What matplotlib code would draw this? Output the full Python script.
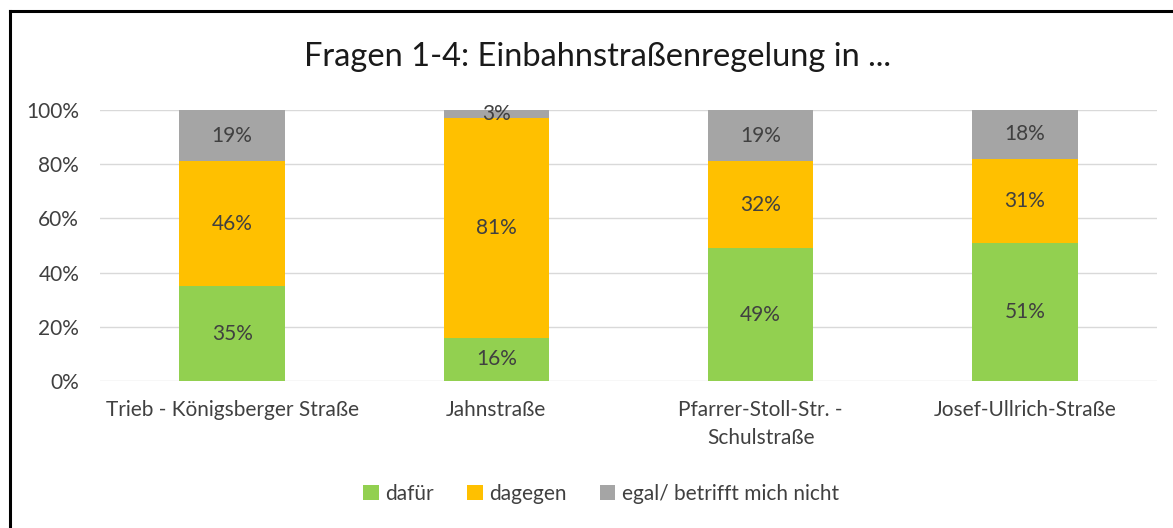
import matplotlib
matplotlib.use('Agg')
from matplotlib import pyplot as plt
from matplotlib.lines import Line2D
import numpy as np

plt.rcParams['font.family'] = ['Lato', 'DejaVu Sans']

streets = ['Trieb - Königsberger Straße', 'Jahnstraße',
           'Pfarrer-Stoll-Str. -\nSchulstraße', 'Josef-Ullrich-Straße']
dafuer = [35, 16, 49, 51]
dagegen = [46, 81, 32, 31]
egal = [19, 3, 19, 18]
series_names = ['dafür', 'dagegen', 'egal/ betrifft mich nicht']
colors = ['#92D050', '#FFC000', '#A5A5A5']

fig = plt.figure(figsize=(11.73, 5.28), dpi=100)
ax = fig.add_axes([100/1173, 1 - 381/528, 1057/1173, 271/528])

x = np.arange(len(streets))
bottom = np.zeros(len(streets))
for vals, name, col in zip([dafuer, dagegen, egal], series_names, colors):
    vals = np.array(vals)
    ax.bar(x, vals, 0.4, bottom=bottom, color=col, label=name, zorder=2)
    for xi, b, v in zip(x, bottom, vals):
        ax.text(xi, b + v / 2, f'{v}%', ha='center', va='center',
                fontsize=15, color='#404040', zorder=3)
    bottom += vals

ax.set_xlim(-0.5, len(streets) - 0.5)
ax.set_ylim(0, 100)
ax.set_yticks(range(0, 101, 20))
ax.set_yticklabels([f'{t}%' for t in range(0, 101, 20)], fontsize=15, color='#404040')
ax.set_xticks(x)
ax.set_xticklabels(streets, fontsize=15, color='#404040', linespacing=1.45)
ax.tick_params(length=0)
ax.tick_params(axis='y', pad=15)
ax.tick_params(axis='x', pad=14)
ax.grid(axis='y', color='#d9d9d9', linewidth=1, zorder=0)
for s in ax.spines.values():
    s.set_visible(False)

fig.text(597/1173, 1 - 57/528, 'Fragen 1-4: Einbahnstraßenregelung in ...',
         ha='center', va='center', fontsize=23.5, color='#1a1a1a')

fig.legend(loc='center', bbox_to_anchor=(601/1173, 1 - 494/528), ncol=3,
           frameon=False, fontsize=15, handlelength=0.75, handleheight=0.75,
           handletextpad=0.3, columnspacing=1.6, labelcolor='#404040')

# frame of the original chart object
fig.add_artist(Line2D([10/1173, 10/1173], [0, 1 - 11/528], color='black', lw=2.2))
fig.add_artist(Line2D([10/1173, 1], [1 - 11/528, 1 - 11/528], color='black', lw=2.2))

fig.savefig('out.png', dpi=100)
